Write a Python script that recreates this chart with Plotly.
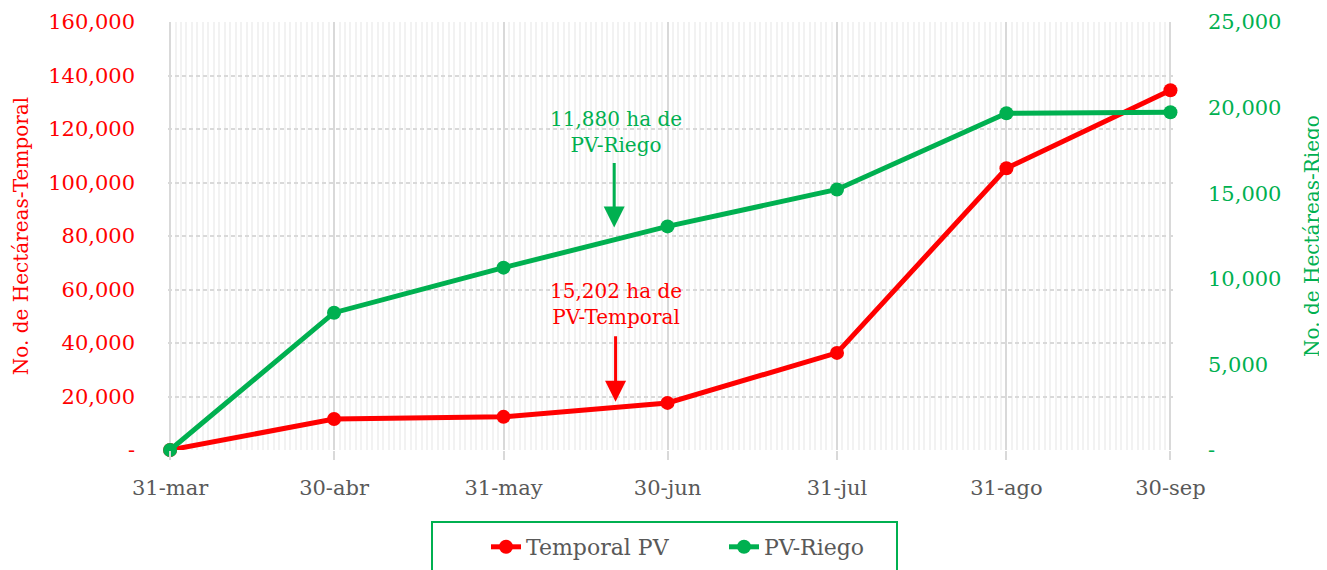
import plotly.graph_objects as go

dates = ["2023-03-31", "2023-04-30", "2023-05-31", "2023-06-30", "2023-07-31", "2023-08-31", "2023-09-30"]
date_labels = ["31-mar", "30-abr", "31-may", "30-jun", "31-jul", "31-ago", "30-sep"]
temporal_pv = [0, 11600, 12400, 17600, 36300, 105300, 134500]
pv_riego = [0, 8020, 10650, 13060, 15220, 19670, 19730]

left_ticks = [0, 20000, 40000, 60000, 80000, 100000, 120000, 140000, 160000]
left_text = ["-", "20,000", "40,000", "60,000", "80,000", "100,000", "120,000", "140,000", "160,000"]
right_ticks = [0, 5000, 10000, 15000, 20000, 25000]
right_text = ["-", "5,000", "10,000", "15,000", "20,000", "25,000"]

RED = "#FF0000"
GREEN = "#00B050"
GRAY = "#595959"
FONT = "DejaVu Serif"

# page body adds an 8px offset; figure coordinates below are viewport minus 8
OFF = 8
W, H = 1327 - OFF, 570 - OFF
L, R, T, B = 168 - OFF, 152, 22 - OFF, 120
PW, PH = W - L - R, H - T - B


def px(xv):
    return (xv - OFF - L) / PW


def py(yv):
    return (H - B - (yv - OFF)) / PH


fig = go.Figure()
fig.add_trace(go.Scatter(x=dates, y=temporal_pv, name="Temporal PV", mode="lines+markers", cliponaxis=False,
                         line=dict(color=RED, width=5), marker=dict(color=RED, size=14), yaxis="y"))
fig.add_trace(go.Scatter(x=dates, y=pv_riego, name="PV-Riego", mode="lines+markers", cliponaxis=False,
                         line=dict(color=GREEN, width=5), marker=dict(color=GREEN, size=14), yaxis="y2"))

# annotations
fig.add_annotation(x="2023-06-20 12:00", y=118800, xref="x", yref="y", text="11,880 ha de<br>PV-Riego",
                   showarrow=False, font=dict(family=FONT, size=20, color=GREEN), yanchor="middle")
fig.add_annotation(x="2023-06-20 06:00", y=83200, xref="x", yref="y", text="", showarrow=True,
                   ax=0, ay=-66, arrowcolor=GREEN, arrowwidth=3, arrowhead=2, arrowsize=1.4)
fig.add_annotation(x="2023-06-20 12:00", y=54700, xref="x", yref="y", text="15,202 ha de<br>PV-Temporal",
                   showarrow=False, font=dict(family=FONT, size=20, color=RED), yanchor="middle")
fig.add_annotation(x="2023-06-20 12:00", y=18000, xref="x", yref="y", text="", showarrow=True,
                   ax=0, ay=-67, arrowcolor=RED, arrowwidth=3, arrowhead=2, arrowsize=1.4)

# legend frame
fig.add_shape(type="rect", xref="paper", yref="paper", x0=px(432), x1=px(897), y0=py(580), y1=py(522),
              line=dict(color=GREEN, width=2), fillcolor="rgba(0,0,0,0)", layer="above")

fig.update_layout(
    width=W, height=H,
    margin=dict(l=L, r=R, t=T, b=B),
    plot_bgcolor="white", paper_bgcolor="white",
    font=dict(family=FONT, size=21, color=GRAY),
    xaxis=dict(
        type="date", range=["2023-03-30 15:00", "2023-09-30 20:00"],
        tickvals=dates, ticktext=date_labels,
        tickfont=dict(family=FONT, size=21, color=GRAY),
        showgrid=True, gridcolor="#D9D9D9", gridwidth=1.5,
        ticks="outside", ticklen=9, tickcolor="#D9D9D9", tickwidth=1.5,
        ticklabelstandoff=10, automargin=False,
        minor=dict(dtick=86400000, tick0="2023-03-31", showgrid=True, gridcolor="#F2F2F2", gridwidth=1.5, ticks=""),
        showline=False, zeroline=False,
    ),
    yaxis=dict(
        range=[0, 160000], tickvals=left_ticks, ticktext=left_text,
        tickfont=dict(family=FONT, size=21, color=RED),
        title=dict(text="No. de Hectáreas-Temporal", font=dict(family=FONT, size=20, color=RED), standoff=14),
        showgrid=True, gridcolor="#D9D9D9", gridwidth=1.5, griddash="4px,3px",
        ticklabelstandoff=32, zeroline=False, showline=False, automargin=False,
    ),
    yaxis2=dict(
        range=[0, 25000], tickvals=right_ticks, ticktext=right_text, overlaying="y", side="right",
        tickfont=dict(family=FONT, size=21, color=GREEN),
        title=dict(text="No. de Hectáreas-Riego", font=dict(family=FONT, size=20, color=GREEN), standoff=24),
        showgrid=False, ticklabelstandoff=32, zeroline=False, showline=False, automargin=False,
    ),
    legend=dict(
        orientation="h", x=px(486), xanchor="left", yref="container", y=(H - (526 - OFF)) / H, yanchor="top",
        borderwidth=0, font=dict(family=FONT, size=22, color=GRAY),
        entrywidth=193, entrywidthmode="pixels", bgcolor="rgba(0,0,0,0)",
    ),
)

fig.write_html("out.html")
